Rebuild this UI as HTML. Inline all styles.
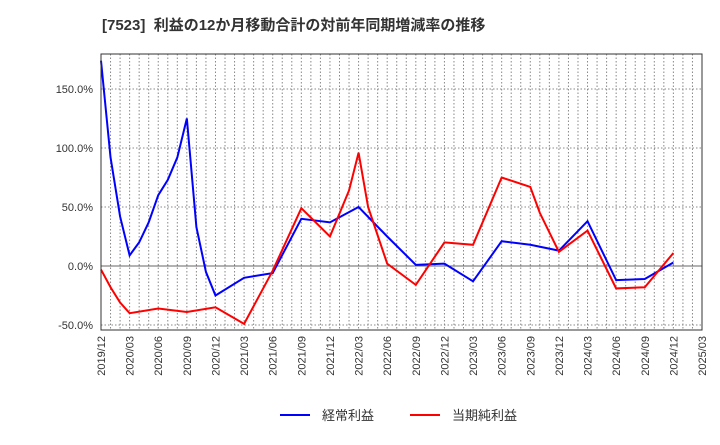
<!DOCTYPE html>
<html><head><meta charset="utf-8"><style>
body{margin:0;background:#fff;font-family:"Liberation Sans","Noto Sans CJK JP",sans-serif;}
</style></head><body>
<svg width="720" height="440" xmlns="http://www.w3.org/2000/svg" id="c" font-family="Liberation Sans, Noto Sans CJK JP, sans-serif">
<text x="102" y="30" font-size="15" font-weight="bold" fill="#333" xml:space="preserve">[7523]  利益の12か月移動合計の対前年同期増減率の推移</text>
<g id="grid"></g><g id="lines"></g><g id="axes"></g>
<g>
<line x1="280" y1="415" x2="310" y2="415" stroke="#0000ff" stroke-width="2"/>
<text x="322" y="420" font-size="13" fill="#333">経常利益</text>
<line x1="410" y1="415" x2="440" y2="415" stroke="#ff0000" stroke-width="2"/>
<text x="452" y="420" font-size="13" fill="#333">当期純利益</text>
</g>
</svg>
<script>
const xTickLabels=["2019/12","2020/03","2020/06","2020/09","2020/12","2021/03","2021/06","2021/09","2021/12","2022/03","2022/06","2022/09","2022/12","2023/03","2023/06","2023/09","2023/12","2024/03","2024/06","2024/09","2024/12","2025/03"];
const yTicks=[-50,0,50,100,150];
const blueMonths=[0,1,2,3,4,5,6,7,8,9,10,11,12,15,18,21,24,27,30,33,36,39,42,45,48,51,54,57,60];
const blueValues=[174,92,42,9,20,37,60,73,92,125,33,-5,-25,-10,-6,40,37,50,25,1,2,-13,21,18,13,38,-12,-11,3];
const redMonths=[0,1,2,3,6,9,12,15,18,21,24,26,27,28,30,33,36,39,42,45,46,48,51,54,57,60];
const redValues=[-3,-18,-31,-40,-36,-39,-35,-49,-4,49,25,64,96,50,2,-16,20,18,75,67,45,12,30,-19,-18,11];
const NS="http://www.w3.org/2000/svg";
const L=101,R=702,T=54,B=330,nM=63;
const xs=m=>L+(R-L)*m/nM;
const ys=v=>266-v*1.18;
function mk(t,a,p){const e=document.createElementNS(NS,t);for(const k in a)e.setAttribute(k,a[k]);p.appendChild(e);return e;}
const grid=document.getElementById('grid'),axes=document.getElementById('axes'),lines=document.getElementById('lines');
for(let m=1;m<nM;m++){const g=mk('line',{x1:xs(m),x2:xs(m),y1:T,y2:B,stroke:'#888','stroke-dasharray':'1.5,2','stroke-width':1},grid);

}
yTicks.forEach(v=>{const g=mk('line',{x1:L,x2:R,y1:ys(v),y2:ys(v),stroke:v==0?'#666':'#888','stroke-dasharray':v==0?'':'1.5,2','stroke-width':1},grid);


const t=mk('text',{x:93,y:ys(v)+4,'text-anchor':'end','font-size':11,fill:'#333'},axes);t.textContent=v.toFixed(1)+'%';

});
xTickLabels.forEach((s,i)=>{const x=xs(i*3);const t=mk('text',{x:0,y:0,'text-anchor':'end','font-size':11,fill:'#333',transform:`translate(${x+4},${B+6}) rotate(-90)`},axes);t.textContent=s;

});
const fr=mk('rect',{x:L,y:T,width:R-L,height:B-T,fill:'none',stroke:'#333','stroke-width':1},axes);


function line(ms,vs,c,n){const p=mk('polyline',{points:ms.map((m,i)=>xs(m)+','+ys(vs[i])).join(' '),fill:'none',stroke:c,'stroke-width':2},lines);

}
line(blueMonths,blueValues,'#0000ff','keijo-line');
line(redMonths,redValues,'#ff0000','junrieki-line');
</script>
</body></html>
